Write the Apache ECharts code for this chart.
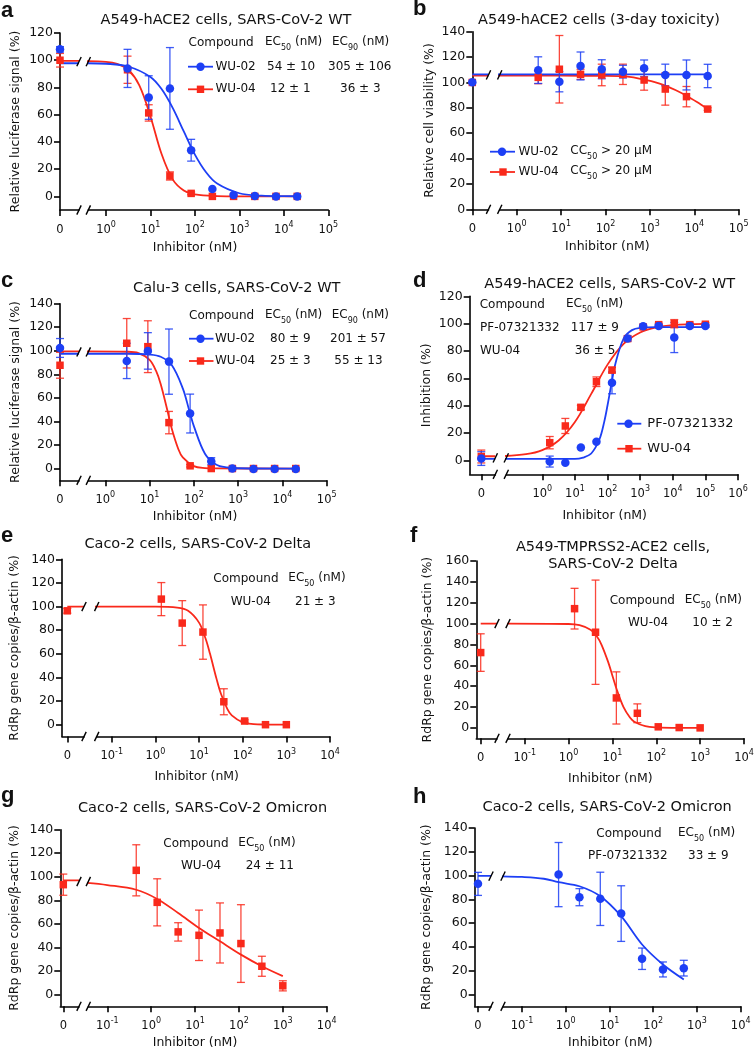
<!DOCTYPE html>
<html>
<head>
<meta charset="utf-8">
<script src="https://cdn.jsdelivr.net/npm/echarts@6.0.0/dist/echarts.min.js"></script>
<style>
html,body{margin:0;padding:0;background:#fff;}
#chart{width:755px;height:1053px;}
</style>
</head>
<body>
<div id="chart"></div>
<script>
// ================= DATA =================
// tick labels
const yTicks120 = [0, 20, 40, 60, 80, 100, 120];
const yTicks140 = [0, 20, 40, 60, 80, 100, 120, 140];
const yTicks160 = [0, 20, 40, 60, 80, 100, 120, 140, 160];
const xTicks0to5 = [1, 10, 100, 1000, 10000, 100000];
const xTicks0to6 = [1, 10, 100, 1000, 10000, 100000, 1000000];
const xTicksM1to4 = [0.1, 1, 10, 100, 1000, 10000];

// ---- panel a : A549-hACE2, WT ----
const concA = [3.05, 9.14, 27.4, 82.3, 247, 741, 2222, 6667, 20000];
const aWU02 = [94, 72.6, 79.3, 33.9, 5.4, 1, 0.2, 0, 0];
const aWU02Err = [14, 16, 30, 8, 0, 0, 0, 0, 0];
const aWU02Zero = [108, 2];
const aWU02FitX = [0.3, 1, 3.16, 10, 17.8, 31.6, 56.2, 100, 178, 316, 1000, 3162, 10000, 20000];
const aWU02FitY = [97.8, 97.4, 95.4, 87.7, 78.8, 65, 47.7, 30.7, 17.7, 9.4, 2.3, 0.6, 0.15, 0.1];
const aWU02FitZero = 97.8;
const aWU04 = [93, 61.3, 15, 2.2, 0, 0, 0, 0, 0];
const aWU04Err = [10, 6, 3, 1, 0, 0, 0, 0, 0];
const aWU04Zero = [100, 5];
const aWU04FitX = [0.3, 1, 1.78, 3.16, 5.62, 10, 17.8, 31.6, 56.2, 100, 316, 1000, 20000];
const aWU04FitY = [99.4, 98.8, 97.3, 93, 81.6, 58.7, 31.1, 12.5, 4.3, 1.4, 0.2, 0, 0];
const aWU04FitZero = 99.5;

// ---- panel b : toxicity ----
const concB = [3.05, 9.14, 27.4, 82.3, 247, 741, 2222, 6667, 20000];
const bWU02 = [109.7, 100.6, 113, 110.4, 108.5, 111.1, 105.9, 105.9, 105.1];
const bWU02Err = [10.5, 8, 11, 7.5, 5, 6.6, 8.5, 11.8, 9.2];
const bWU02Zero = [100.1, 0];
const bWU02FitX = [0.3, 20000];
const bWU02FitY = [106.4, 106.4];
const bWU02FitZero = 106.4;
const bWU04 = [104, 110.4, 106.4, 105.9, 106.4, 101.9, 94.8, 88.8, 79];
const bWU04Err = [5, 26.6, 4, 8.5, 8, 8, 12.7, 8, 1];
const bWU04Zero = [100, 0];
const bWU04FitX = [0.3, 10, 82.3, 247, 427, 741, 1286, 2222, 3850, 6667, 11500, 20000];
const bWU04FitY = [105.3, 105.3, 105.2, 105, 104, 102.2, 100.2, 97.5, 93.8, 89.5, 84.5, 79];
const bWU04FitZero = 105.3;

// ---- panel c : Calu-3, WT ----
const concC = [3.05, 9.14, 27.4, 82.3, 247, 741, 2222, 6667, 20000];
const cWU02 = [91.4, 99.9, 90.8, 46.7, 6.2, 0, -0.5, -0.5, -0.5];
const cWU02Err = [15, 15.5, 27.7, 16.5, 3, 0, 0, 0, 0];
const cWU02Zero = [102.4, 8];
const cWU02FitX = [0.3, 3.16, 10, 17.8, 31.6, 56.2, 79.4, 100, 178, 316, 562, 1000, 20000];
const cWU02FitY = [97.5, 97.5, 96.8, 94.9, 87.9, 68.1, 48.7, 36, 12.6, 3.5, 0.9, 0.25, 0];
const cWU02FitZero = 97.5;
const cWU04 = [106.4, 103.5, 39, 2.3, 0, 0, 0, 0, 0];
const cWU04Err = [21, 22, 9.5, 1, 0, 0, 0, 0, 0];
const cWU04Zero = [87.7, 11];
const cWU04FitX = [0.3, 3.16, 5.62, 10, 14.1, 17.8, 25.1, 31.6, 44.7, 56.2, 100, 178, 316, 20000];
const cWU04FitY = [99.5, 99.2, 98, 92.3, 82.7, 71.8, 49.7, 34, 16.4, 9.4, 2, 0.4, 0.1, 0];
const cWU04FitZero = 99.5;

// ---- panel d : inhibition ----
const concD = [1.69, 5.08, 15.2, 45.7, 137, 412, 1235, 3704, 11111, 33333, 100000];
const dPF = [-0.7, -1.5, 9.5, 13.8, 56.8, 89.1, 98.1, 98.4, 89.9, 98.4, 98.4];
const dPFErr = [4, 0, 0, 0, 8, 2, 1, 1, 11, 1, 1];
const dPFZero = [1.5, 5];
const dPFFitX = [0.05, 10, 17.8, 31.6, 56.2, 79.4, 100, 126, 178, 316, 562, 1000, 3162, 100000];
const dPFFitY = [1.2, 1.2, 2.2, 5.2, 15.4, 28.5, 40.4, 53.6, 71.7, 89.4, 95.3, 97, 97.5, 97.5];
const dPFFitZero = 1.2;
const dWU04 = [13.1, 25.3, 38.9, 57.6, 66.1, 89.1, 97.6, 99.3, 100, 99.3, 99.6];
const dWU04Err = [4.5, 5.5, 1.5, 3.5, 2, 1, 1, 1, 3, 1, 1];
const dWU04Zero = [3, 4.7];
const dWU04FitX = [0.05, 0.316, 1, 3.16, 10, 31.6, 100, 316, 1000, 3162, 10000, 100000];
const dWU04FitY = [3.2, 4.7, 7.7, 14.7, 28.2, 48.7, 70.1, 85.4, 93.6, 97.3, 98.9, 99.8];
const dWU04FitZero = 3.2;

// ---- panel e : Caco-2, Delta ----
const concE = [1.37, 4.12, 12.3, 37, 111, 333, 1000];
const eWU04 = [106.3, 86, 78.4, 19.4, 3.1, 0, 0];
const eWU04Err = [14, 19, 23, 11, 1, 0, 0];
const eWU04Zero = [96.4, 2];
const eWU04FitX = [0.03, 1, 3.16, 5.62, 10, 14.1, 17.8, 25.1, 31.6, 44.7, 56.2, 100, 178, 316, 1000];
const eWU04FitY = [100, 99.95, 99.1, 96.4, 86.4, 72.9, 60.2, 39, 26.4, 13.2, 7.9, 2, 0.5, 0.12, 0];
const eWU04FitZero = 100;

// ---- panel f : A549-TMPRSS2-ACE2, Delta ----
const concF = [1.37, 4.12, 12.3, 37, 111, 333, 1000];
const fWU04 = [114.3, 91.7, 28.7, 14, 1, 0.3, 0];
const fWU04Err = [19.5, 50, 25, 9, 0, 0, 0];
const fWU04Zero = [72.2, 18];
const fWU04FitX = [0.03, 1, 1.78, 3.16, 4.47, 5.62, 7.94, 10, 12.6, 17.8, 25.1, 31.6, 56.2, 100, 316, 1000];
const fWU04FitY = [100, 99.6, 98.4, 94.1, 87.4, 79.9, 63.5, 50, 36.5, 20.1, 9.9, 5.9, 1.6, 0.4, 0, 0];
const fWU04FitZero = 100;

// ---- panel g : Caco-2, Omicron, WU-04 ----
const concG = [0.457, 1.37, 4.12, 12.3, 37, 111, 333, 1000];
const gWU04 = [105.5, 78.3, 53.2, 50.3, 52.3, 43.3, 24, 7.4];
const gWU04Err = [21.7, 20, 7.8, 21.4, 25.5, 33, 8.5, 4.3];
const gWU04Zero = [93.3, 9];
const gWU04FitX = [0.03, 0.1, 0.457, 1.37, 4.12, 12.3, 37, 111, 333, 1000];
const gWU04FitY = [95, 93, 89, 81.2, 69.3, 56.6, 45.2, 33.9, 24, 15.6];
const gWU04FitZero = 97;

// ---- panel h : Caco-2, Omicron, PF-07321332 ----
const concH = [0.686, 2.06, 6.17, 18.5, 55.6, 167, 500];
const hPF = [100.8, 81.8, 80.4, 68, 30, 21, 22.1];
const hPFErr = [27, 7.2, 22.4, 23.4, 9, 6.3, 6.6];
const hPFZero = [93, 9.7];
const hPFFitX = [0.03, 0.1, 0.316, 0.686, 2.06, 6.17, 18.5, 55.6, 167, 500];
const hPFFitY = [99.4, 98.8, 97.3, 94.4, 91, 82.6, 65.8, 42, 25.2, 12.6];
const hPFFitZero = 99.7;

// ================= STYLE / LAYOUT =================
const FONT = 'DejaVu Sans';
const TXT = '#111';
const BLUE = '#1d3ff5';
const RED = '#f9291b';
const AXW = 1.6;

function S(name, color, symbol, conc, val, err, zero, fitX, fitY, fitZero) {
  return {name, color, symbol, conc, val, err, zero, fitX, fitY, fitZero};
}

const panels = [
  { letter:'a', letterPos:[1,10.7], title:['A549-hACE2 cells, SARS-CoV-2 WT'], titlePos:[226,[20]],
    ytitle:'Relative luciferase signal (%)', xtitlePos:[195,248],
    yAxisX:60, zeroX:60, breakL:79, breakR:88.3, right:328.3, top:33, bottom:210,
    ymin:-10, ymax:120, yTicks:yTicks120, logMin:0.40, logMax:1e5, xTicks:xTicks0to5, nameGap:37.5, breakLevel:99,
    series:[S('WU-04',RED,'rect',concA,aWU04,aWU04Err,aWU04Zero,aWU04FitX,aWU04FitY,aWU04FitZero),
            S('WU-02',BLUE,'circle',concA,aWU02,aWU02Err,aWU02Zero,aWU02FitX,aWU02FitY,aWU02FitZero)] },
  { letter:'b', letterPos:[413,9.4], title:['A549-hACE2 cells (3-day toxicity)'], titlePos:[599,[20]],
    ytitle:'Relative cell viability (%)', xtitlePos:[607.3,246.7],
    yAxisX:472.3, zeroX:472.3, breakL:488.5, breakR:499.7, right:738.7, top:31.7, bottom:209.3,
    ymin:0, ymax:140, yTicks:yTicks140, logMin:0.414, logMax:1e5, xTicks:xTicks0to5, nameGap:36.5, breakLevel:106,
    series:[S('WU-04',RED,'rect',concB,bWU04,bWU04Err,bWU04Zero,bWU04FitX,bWU04FitY,bWU04FitZero),
            S('WU-02',BLUE,'circle',concB,bWU02,bWU02Err,bWU02Zero,bWU02FitX,bWU02FitY,bWU02FitZero)] },
  { letter:'c', letterPos:[1,280.7], title:['Calu-3 cells, SARS-CoV-2 WT'], titlePos:[236.7,[288]],
    ytitle:'Relative luciferase signal (%)', xtitlePos:[195,517],
    yAxisX:60, zeroX:60, breakL:79, breakR:88.3, right:326.7, top:303.7, bottom:480.3,
    ymin:-10, ymax:140, yTicks:yTicks140, logMin:0.413, logMax:1e5, xTicks:xTicks0to5, nameGap:37.5, breakLevel:99,
    series:[S('WU-04',RED,'rect',concC,cWU04,cWU04Err,cWU04Zero,cWU04FitX,cWU04FitY,cWU04FitZero),
            S('WU-02',BLUE,'circle',concC,cWU02,cWU02Err,cWU02Zero,cWU02FitX,cWU02FitY,cWU02FitZero)] },
  { letter:'d', letterPos:[413,280.7], title:['A549-hACE2 cells, SARS-CoV-2 WT'], titlePos:[609.7,[284.5]],
    ytitle:'Inhibition (%)', xtitlePos:[604.7,515.3],
    yAxisX:469.7, zeroX:481.3, breakL:495.3, breakR:506.3, right:738, top:296.3, bottom:474.3,
    ymin:-10, ymax:120, yTicks:yTicks120, logMin:0.0787, logMax:1e6, xTicks:xTicks0to6, nameGap:36, breakLevel:2,
    series:[S('WU-04',RED,'rect',concD,dWU04,dWU04Err,dWU04Zero,dWU04FitX,dWU04FitY,dWU04FitZero),
            S('PF-07321332',BLUE,'circle',concD,dPF,dPFErr,dPFZero,dPFFitX,dPFFitY,dPFFitZero)] },
  { letter:'e', letterPos:[1,536], title:['Caco-2 cells, SARS-CoV-2 Delta'], titlePos:[197.7,[544]],
    ytitle:'RdRp gene copies/\u03b2-actin (%)', xtitlePos:[196.7,776.7],
    yAxisX:62, zeroX:67.3, breakL:84, breakR:96.7, right:330, top:559.3, bottom:736.5,
    ymin:-10, ymax:140, yTicks:yTicks140, logMin:0.0453, logMax:1e4, xTicks:xTicksM1to4, nameGap:41, breakLevel:100,
    series:[S('WU-04',RED,'rect',concE,eWU04,eWU04Err,eWU04Zero,eWU04FitX,eWU04FitY,eWU04FitZero)] },
  { letter:'f', letterPos:[410,536], title:['A549-TMPRSS2-ACE2 cells,','SARS-CoV-2 Delta'], titlePos:[613,[547.2,564.2]],
    ytitle:'RdRp gene copies/\u03b2-actin (%)', xtitlePos:[610.3,778.3],
    yAxisX:476.3, zeroX:480.7, breakL:497, breakR:508, right:744, top:561, bottom:738.3,
    ymin:-10, ymax:160, yTicks:yTicks160, logMin:0.0416, logMax:1e4, xTicks:xTicksM1to4, nameGap:42.5, breakLevel:100,
    series:[S('WU-04',RED,'rect',concF,fWU04,fWU04Err,fWU04Zero,fWU04FitX,fWU04FitY,fWU04FitZero)] },
  { letter:'g', letterPos:[1,795.7], title:['Caco-2 cells, SARS-CoV-2 Omicron'], titlePos:[202.5,[808]],
    ytitle:'RdRp gene copies/\u03b2-actin (%)', xtitlePos:[195,1043],
    yAxisX:60.3, zeroX:63.3, breakL:79, breakR:88.3, right:326.7, top:829.7, bottom:1006.3,
    ymin:-10, ymax:140, yTicks:yTicks140, logMin:0.0369, logMax:1e4, xTicks:xTicksM1to4, nameGap:39.5, breakLevel:96,
    series:[S('WU-04',RED,'rect',concG,gWU04,gWU04Err,gWU04Zero,gWU04FitX,gWU04FitY,gWU04FitZero)] },
  { letter:'h', letterPos:[413,796.7], title:['Caco-2 cells, SARS-CoV-2 Omicron'], titlePos:[607.2,[807]],
    ytitle:'RdRp gene copies/\u03b2-actin (%)', xtitlePos:[610.3,1043],
    yAxisX:474.7, zeroX:478, breakL:491, breakR:503, right:740.7, top:828, bottom:1006.3,
    ymin:-10, ymax:140, yTicks:yTicks140, logMin:0.0368, logMax:1e4, xTicks:xTicksM1to4, nameGap:41, breakLevel:99.5,
    series:[S('PF-07321332',BLUE,'circle',concH,hPF,hPFErr,hPFZero,hPFFitX,hPFFitY,hPFFitZero)] }
];

// legend tables (text, x, y) – 'EC' entries use subscript
function ec(pre, sub, rest) { return '{n|' + pre + '}{s|' + sub + '}{n|' + rest + '}'; }
const tableTexts = [
  // a
  ['Compound',188.5,43.3], [ec('EC','50',' (nM)'),265,43.3], [ec('EC','90',' (nM)'),332,43.3],
  ['WU-02',215.5,66.7], ['54 \u00b1 10',267,66.7], ['305 \u00b1 106',328,66.7],
  ['WU-04',215.5,89.3], ['12 \u00b1 1',270,89.3], ['36 \u00b1 3',340,89.3],
  // b
  ['WU-02',518.5,151.7], [ec('CC','50',' > 20 \u00b5M'),570.3,151.7],
  ['WU-04',518.5,172], [ec('CC','50',' > 20 \u00b5M'),570.3,172],
  // c
  ['Compound',189,316.3], [ec('EC','50',' (nM)'),265,316.3], [ec('EC','90',' (nM)'),331.7,316.3],
  ['WU-02',215,338.7], ['80 \u00b1 9',270,338.7], ['201 \u00b1 57',330,338.7],
  ['WU-04',215,361], ['25 \u00b1 3',270,361], ['55 \u00b1 13',334.3,361],
  // d
  ['Compound',479.7,305.3], [ec('EC','50',' (nM)'),566,305.3],
  ['PF-07321332',480,327.7], ['117 \u00b1 9',570.7,327.7],
  ['WU-04',480,351], ['36 \u00b1 5',574.7,351],
  // e
  ['Compound',213.3,579], [ec('EC','50',' (nM)'),288.3,579],
  ['WU-04',230.7,601.7], ['21 \u00b1 3',295,601.7],
  // f
  ['Compound',609.7,601], [ec('EC','50',' (nM)'),684.7,601],
  ['WU-04',628,622.7], ['10 \u00b1 2',692.3,622.7],
  // g
  ['Compound',163.3,844], [ec('EC','50',' (nM)'),238.3,844],
  ['WU-04',181,866.3], ['24 \u00b1 11',245.7,866.3],
  // h
  ['Compound',596.3,834], [ec('EC','50',' (nM)'),678,834],
  ['PF-07321332',588,856.3], ['33 \u00b1 9',688,856.3]
];
// legend symbols: [color, symbol, x1, x2, cx, y]
const legendSyms = [
  [BLUE,'circle',188,213,200.5,66.7], [RED,'rect',188,213,200.5,89.3],
  [BLUE,'circle',490,515,502,151.7], [RED,'rect',490,515,503,172],
  [BLUE,'circle',189,213.5,200.5,338.7], [RED,'rect',189,213.5,200.5,361],
  [BLUE,'circle',617.3,641.3,628.5,423.7], [RED,'rect',617.3,641.3,629,448.7]
];
const bigLegendTexts = [['PF-07321332',647.3,423.7], ['WU-04',647.3,448.7]];

// ================= BUILD =================
function supLabel(v) {
  const e = Math.round(Math.log10(v));
  return '{b|10}{p|' + (e < 0 ? '-' + (-e) : e) + '}';
}
const axisLineStyle = {color:'#000', width:AXW};
const xLabelRich = {
  b:{fontSize:11.5, fontFamily:FONT, color:TXT, lineHeight:15, verticalAlign:'bottom'},
  p:{fontSize:8, fontFamily:FONT, color:TXT, lineHeight:9, verticalAlign:'top'}
};

function errRender(color) {
  return function (params, api) {
    const x = api.value(0), y = api.value(1), e = api.value(2);
    const p1 = api.coord([x, y + e]), p2 = api.coord([x, y - e]);
    const hw = 4;
    const st = {stroke:color, lineWidth:1.3, opacity:0.85};
    return {type:'group', children:[
      {type:'line', shape:{x1:p1[0], y1:p1[1], x2:p2[0], y2:p2[1]}, style:st},
      {type:'line', shape:{x1:p1[0]-hw, y1:p1[1], x2:p1[0]+hw, y2:p1[1]}, style:st},
      {type:'line', shape:{x1:p2[0]-hw, y1:p2[1], x2:p2[0]+hw, y2:p2[1]}, style:st}
    ]};
  };
}

const grids = [], xAxes = [], yAxes = [], series = [];
panels.forEach((p, i) => {
  const gz = 2 * i, gl = 2 * i + 1;
  const h = p.bottom - p.top;
  grids.push({left:p.yAxisX, top:p.top, width:p.breakL - p.yAxisX, height:h, containLabel:false, outerBoundsMode:'none'});
  grids.push({left:p.breakR, top:p.top, width:p.right - p.breakR, height:h, containLabel:false, outerBoundsMode:'none'});
  const zmin = -(p.zeroX - p.yAxisX) / (p.breakL - p.zeroX);
  xAxes.push({type:'value', gridIndex:gz, min:zmin, max:1,
    axisLine:{show:true, onZero:false, lineStyle:axisLineStyle},
    axisTick:{show:true, customValues:[0], length:6, lineStyle:axisLineStyle},
    axisLabel:{customValues:[0], formatter:() => '0', margin:14, fontSize:11.5, fontFamily:FONT, color:TXT},
    splitLine:{show:false}});
  xAxes.push({type:'log', logBase:10, gridIndex:gl, min:p.logMin, max:p.logMax,
    axisLine:{show:true, onZero:false, lineStyle:axisLineStyle},
    axisTick:{show:true, customValues:p.xTicks, length:6, lineStyle:axisLineStyle},
    axisLabel:{customValues:p.xTicks, formatter:supLabel, rich:xLabelRich, margin:11, color:TXT},
    minorTick:{show:false}, splitLine:{show:false}});
  yAxes.push({type:'value', gridIndex:gz, min:p.ymin, max:p.ymax, position:'left',
    axisLine:{show:true, onZero:false, lineStyle:axisLineStyle},
    axisTick:{show:true, customValues:p.yTicks, length:6, lineStyle:axisLineStyle},
    axisLabel:{customValues:p.yTicks, margin:7, fontSize:12.5, fontFamily:FONT, color:TXT},
    splitLine:{show:false},
    name:p.ytitle, nameLocation:'middle', nameGap:p.nameGap, nameRotate:90, nameMoveOverlap:false,
    nameTextStyle:{fontSize:12.5, fontFamily:FONT, color:TXT}});
  yAxes.push({type:'value', gridIndex:gl, min:p.ymin, max:p.ymax, show:false, splitLine:{show:false}});

  p.series.forEach((s) => {
    const big = s.symbol === 'circle' ? 8.5 : 7.5;
    // fitted curve, log part
    series.push({type:'line', xAxisIndex:gl, yAxisIndex:gl, data:s.fitX.map((x, k) => [x, s.fitY[k]]),
      smooth:0.35, symbol:'none', lineStyle:{color:s.color, width:1.8}, z:2, clip:true, silent:true});
    // fitted curve, zero segment
    series.push({type:'line', xAxisIndex:gz, yAxisIndex:gz, data:[[0, s.fitZero], [1, s.fitZero]],
      symbol:'none', lineStyle:{color:s.color, width:1.8}, z:2, clip:false, silent:true});
    // error bars
    const ed = s.conc.map((x, k) => [x, s.val[k], s.err[k]]).filter(d => d[2] > 0);
    series.push({type:'custom', xAxisIndex:gl, yAxisIndex:gl, data:ed, encode:{x:0, y:1},
      renderItem:errRender(s.color), z:3, silent:true});
    if (s.zero[1] > 0) {
      series.push({type:'custom', xAxisIndex:gz, yAxisIndex:gz, data:[[0, s.zero[0], s.zero[1]]], encode:{x:0, y:1},
        renderItem:errRender(s.color), z:3, silent:true});
    }
    // markers
    series.push({type:'scatter', xAxisIndex:gl, yAxisIndex:gl, data:s.conc.map((x, k) => [x, s.val[k]]),
      symbol:s.symbol, symbolSize:big, itemStyle:{color:s.color, opacity:1}, z:4, clip:false, silent:true});
    series.push({type:'scatter', xAxisIndex:gz, yAxisIndex:gz, data:[[0, s.zero[0]]],
      symbol:s.symbol, symbolSize:big, itemStyle:{color:s.color, opacity:1}, z:4, clip:false, silent:true});
  });
});

const chart = echarts.init(document.getElementById('chart'), null, {renderer:'canvas', width:755, height:1053});
chart.setOption({animation:false, backgroundColor:'#fff', grid:grids, xAxis:xAxes, yAxis:yAxes, series:series});

// ---- graphic: titles, letters, axis titles, legends, break marks ----
const gfx = [];
function plainText(text, x, y, size, align, weight, family) {
  return {type:'text', z:20, silent:true, style:{text, x, y, fill:TXT, fontSize:size, fontFamily:family || FONT,
    fontWeight:weight || 'normal', align:align, verticalAlign:'middle', textAlign:align, textVerticalAlign:'middle'}};
}
function richText(text, x, y, size) {
  return {type:'text', z:20, silent:true, style:{text, x, y, fill:TXT, align:'left', verticalAlign:'middle',
    textAlign:'left', textVerticalAlign:'middle',
    rich:{n:{fontSize:size, fontFamily:FONT, fill:TXT, color:TXT, lineHeight:16, verticalAlign:'top'},
          s:{fontSize:8, fontFamily:FONT, fill:TXT, color:TXT, lineHeight:12, verticalAlign:'bottom'}}}};
}
panels.forEach((p) => {
  gfx.push(plainText(p.letter, p.letterPos[0], p.letterPos[1], 22, 'left', 'bold', 'Liberation Sans'));
  p.title.forEach((t, k) => gfx.push(plainText(t, p.titlePos[0], p.titlePos[1][k], 14.5, 'center')));
  gfx.push(plainText('Inhibitor (nM)', p.xtitlePos[0], p.xtitlePos[1], 12.5, 'center'));
});
tableTexts.forEach((t) => {
  if (t[0].indexOf('{n|') === 0) gfx.push(richText(t[0], t[1], t[2] + 1, 12));
  else gfx.push(plainText(t[0], t[1], t[2], 12, 'left'));
});
bigLegendTexts.forEach((t) => gfx.push(plainText(t[0], t[1], t[2], 13, 'left')));
legendSyms.forEach((s) => {
  gfx.push({type:'line', z:20, silent:true, shape:{x1:s[2], y1:s[5], x2:s[3], y2:s[5]}, style:{stroke:s[0], lineWidth:1.8}});
  if (s[1] === 'circle') gfx.push({type:'circle', z:21, silent:true, shape:{cx:s[4], cy:s[5], r:4.2}, style:{fill:s[0]}});
  else gfx.push({type:'rect', z:21, silent:true, shape:{x:s[4]-3.7, y:s[5]-3.7, width:7.4, height:7.4}, style:{fill:s[0]}});
});
panels.forEach((p, i) => {
  const yc = chart.convertToPixel({xAxisIndex:2 * i, yAxisIndex:2 * i}, [0, p.breakLevel])[1];
  [p.bottom, yc].forEach((y) => {
    [p.breakL, p.breakR].forEach((x) => {
      gfx.push({type:'line', z:25, silent:true, shape:{x1:x - 2.2, y1:y + 4.6, x2:x + 2.2, y2:y - 4.6},
        style:{stroke:'#000', lineWidth:1.4}});
    });
  });
});
chart.setOption({graphic:{elements:gfx}});
</script>
</body>
</html>
